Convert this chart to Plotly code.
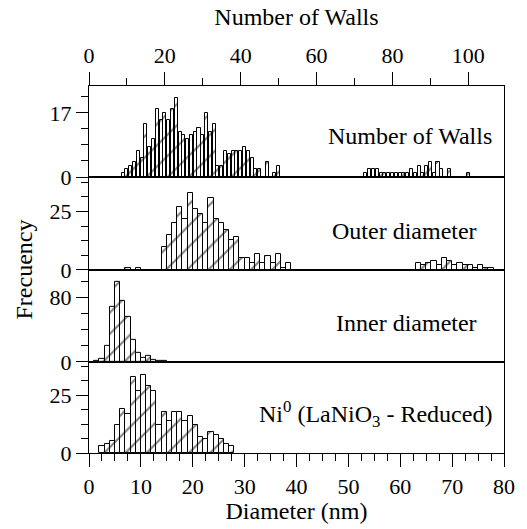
import plotly.graph_objects as go

# ---- data: histogram counts -------------------------------------------
# Number of walls, one bar per wall count
walls_bins = list(range(9, 51)) + list(range(73, 101))
walls_counts = [1, 2, 3, 4, 7, 5, 14, 8, 10, 18, 15, 17, 15, 18, 21,
                12, 11, 10, 11, 12, 13, 11, 17, 12, 14, 3, 3, 7, 6, 7,
                7, 7, 8, 7, 5, 2, 2, 0, 4, 0, 1, 3,
                1, 2, 2, 2, 1, 1, 1, 1, 1, 1, 1, 1, 2, 1, 3, 1, 3, 4,
                1, 4, 2, 0, 2, 0, 0, 0, 0, 1]

# Outer diameter, 1 nm bins (lower edge in nm)
outer_bins = [7, 9] + list(range(14, 39)) + list(range(63, 78))
outer_counts = [1, 1,
                10, 15, 20, 27, 22, 33, 26, 24, 20, 31, 22, 20, 17, 13,
                14, 5, 5, 3, 7, 3, 6, 3, 7, 1, 3,
                3, 2, 3, 4, 2, 5, 4, 2, 3, 2, 2, 1, 2, 1, 1]

# Inner diameter, 1 nm bins
inner_bins = list(range(1, 15))
inner_counts = [2, 4, 20, 68, 100, 76, 56, 27, 11, 5, 7, 3, 1, 1]

# Ni0 particle size (LaNiO3 reduced), 1 nm bins
ni_bins = list(range(2, 28))
ni_counts = [3, 4, 5, 12, 19, 17, 33, 27, 34, 29, 27, 12, 18, 14, 18,
             18, 14, 16, 12, 7, 6, 9, 8, 6, 4, 3]

panel_labels = ["Number of Walls", "Outer diameter", "Inner diameter",
                "Ni<sup>0</sup> (LaNiO<sub>3</sub> - Reduced)"]

# ---- styling ----------------------------------------------------------
FONT = "Liberation Serif, Times New Roman, serif"
INK = "black"
hatch = dict(shape="/", fgcolor=INK, bgcolor="white", size=15, solidity=0.14)


def bars(bins, counts, width, xaxis, yaxis):
    centers = [b + 0.5 for b in bins] if width >= 1 else bins
    return go.Bar(
        x=centers, y=counts, width=width, xaxis=xaxis, yaxis=yaxis,
        marker=dict(color="white", pattern=hatch,
                    line=dict(color=INK, width=1)),
        showlegend=False, hoverinfo="x+y",
    )


fig = go.Figure()
fig.add_trace(bars(walls_bins, walls_counts, 0.8, "x2", "y"))
fig.add_trace(bars(outer_bins, outer_counts, 1.0, "x3", "y2"))
fig.add_trace(bars(inner_bins, inner_counts, 1.0, "x4", "y3"))
fig.add_trace(bars(ni_bins, ni_counts, 1.0, "x", "y4"))

tickfont = dict(family=FONT, size=22, color=INK)
line_kw = dict(showline=True, linecolor=INK, linewidth=1.2, mirror=True,
               showgrid=False, zeroline=False)

# panel domains, bottom to top
doms = [(0.0, 0.248), (0.248, 0.499), (0.499, 0.752), (0.752, 1.0)]


def yaxis(dom, rng, dtick, anchor):
    return dict(domain=list(dom), range=rng, dtick=dtick, tick0=0,
                ticks="outside", ticklen=12, tickwidth=1.2, tickcolor=INK,
                minor=dict(dtick=dtick / 4, tick0=0, ticks="outside",
                           ticklen=7, tickwidth=1.2, tickcolor=INK),
                tickfont=tickfont, anchor=anchor, **line_kw)


fig.update_layout(
    width=527, height=529,
    margin=dict(l=89, r=17, t=86, b=72),
    paper_bgcolor="white", plot_bgcolor="white",
    bargap=0,
    font=dict(family=FONT, color=INK),
    # bottom axis: diameter (nm)
    xaxis=dict(range=[0, 80], dtick=10, tick0=0, anchor="y4", side="bottom",
               ticks="outside", ticklen=13, tickwidth=1.2, tickcolor=INK,
               minor=dict(dtick=2.5, ticks="outside", ticklen=7,
                          tickwidth=1.2, tickcolor=INK),
               tickfont=tickfont,
               title=dict(text="Diameter (nm)",
                          font=dict(family=FONT, size=24, color=INK),
                          standoff=2),
               **line_kw),
    # top axis: number of walls
    xaxis2=dict(range=[0, 109.4], dtick=20, tick0=0, anchor="y", side="top",
                ticks="outside", ticklen=13, tickwidth=1.2, tickcolor=INK,
                minor=dict(dtick=10, ticks="outside", ticklen=7,
                           tickwidth=1.2, tickcolor=INK),
                tickfont=tickfont,
                title=dict(text="Number of Walls",
                           font=dict(family=FONT, size=24, color=INK),
                           standoff=10),
                **line_kw),
    xaxis3=dict(matches="x", anchor="y2", showticklabels=False, ticks="",
                **line_kw),
    xaxis4=dict(matches="x", anchor="y3", showticklabels=False, ticks="",
                **line_kw),
    yaxis=yaxis(doms[3], [0, 24.1], 17, "x2"),
    yaxis2=yaxis(doms[2], [0, 39.8], 25, "x3"),
    yaxis3=yaxis(doms[1], [0, 114.5], 80, "x4"),
    yaxis4=yaxis(doms[0], [0, 39.5], 25, "x"),
)

# in-panel labels (right aligned) and shared y title
label_pos = [(0.977, 0.864), (0.94, 0.605), (0.94, 0.354), (0.977, 0.105)]
for text, (lx, ly) in zip(panel_labels, label_pos):
    fig.add_annotation(text=text, x=lx, y=ly, xref="paper", yref="paper",
                       xanchor="right", yanchor="middle", showarrow=False,
                       font=dict(family=FONT, size=24, color=INK))

fig.add_annotation(text="Frecuency", x=-0.159, y=0.5, xref="paper",
                   yref="paper", textangle=-90, showarrow=False,
                   xanchor="center", yanchor="middle",
                   font=dict(family=FONT, size=24, color=INK))

fig.write_html("out.html")
